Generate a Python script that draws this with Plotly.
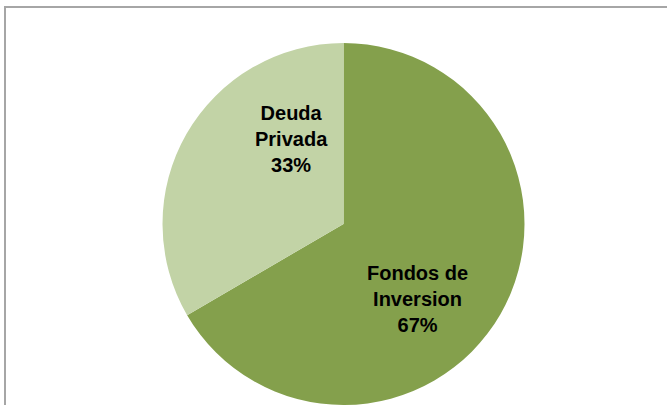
import plotly.graph_objects as go

labels = ["Fondos de<br>Inversion", "Deuda<br>Privada"]
values = [66.6, 33.4]
colors = ["#84A04C", "#C2D3A6"]

W, H = 667, 405
cx, cy, r = 343.5, 224.5, 181
# label placement, as fractions of the pie radius (x right, y down)
label_offsets = [(0.41, 0.41), (-0.285, -0.475)]

fig = go.Figure(go.Pie(
    labels=labels,
    values=values,
    sort=False,
    direction="clockwise",
    rotation=0,
    marker=dict(colors=colors, line=dict(width=0)),
    textinfo="none",
    hoverinfo="label+percent",
    showlegend=False,
    domain=dict(x=[(cx - r) / W, (cx + r) / W], y=[0, 1 - 43 / H]),
))

total = sum(values)
for lab, val, (fx, fy) in zip(labels, values, label_offsets):
    fig.add_annotation(
        x=(cx + fx * r) / W, y=1 - (cy + fy * r) / H,
        xref="paper", yref="paper", showarrow=False,
        text=f"<b>{lab}<br>{round(100 * val / total)}%</b>",
        font=dict(family="Liberation Sans Narrow, Liberation Sans", size=20, color="black"),
        xanchor="center", yanchor="middle", align="center",
    )

fig.add_shape(type="rect", xref="paper", yref="paper",
              x0=5 / W, x1=1.02, y0=-0.02, y1=1 - 7 / H,
              line=dict(color="#A6A6A6", width=2), fillcolor="rgba(0,0,0,0)",
              layer="above")

fig.update_layout(
    width=W, height=H,
    margin=dict(l=0, r=0, t=0, b=0),
    paper_bgcolor="white",
    plot_bgcolor="white",
)

fig.write_html("out.html", config={"displayModeBar": False},
               post_script="document.body.style.margin='0';")
